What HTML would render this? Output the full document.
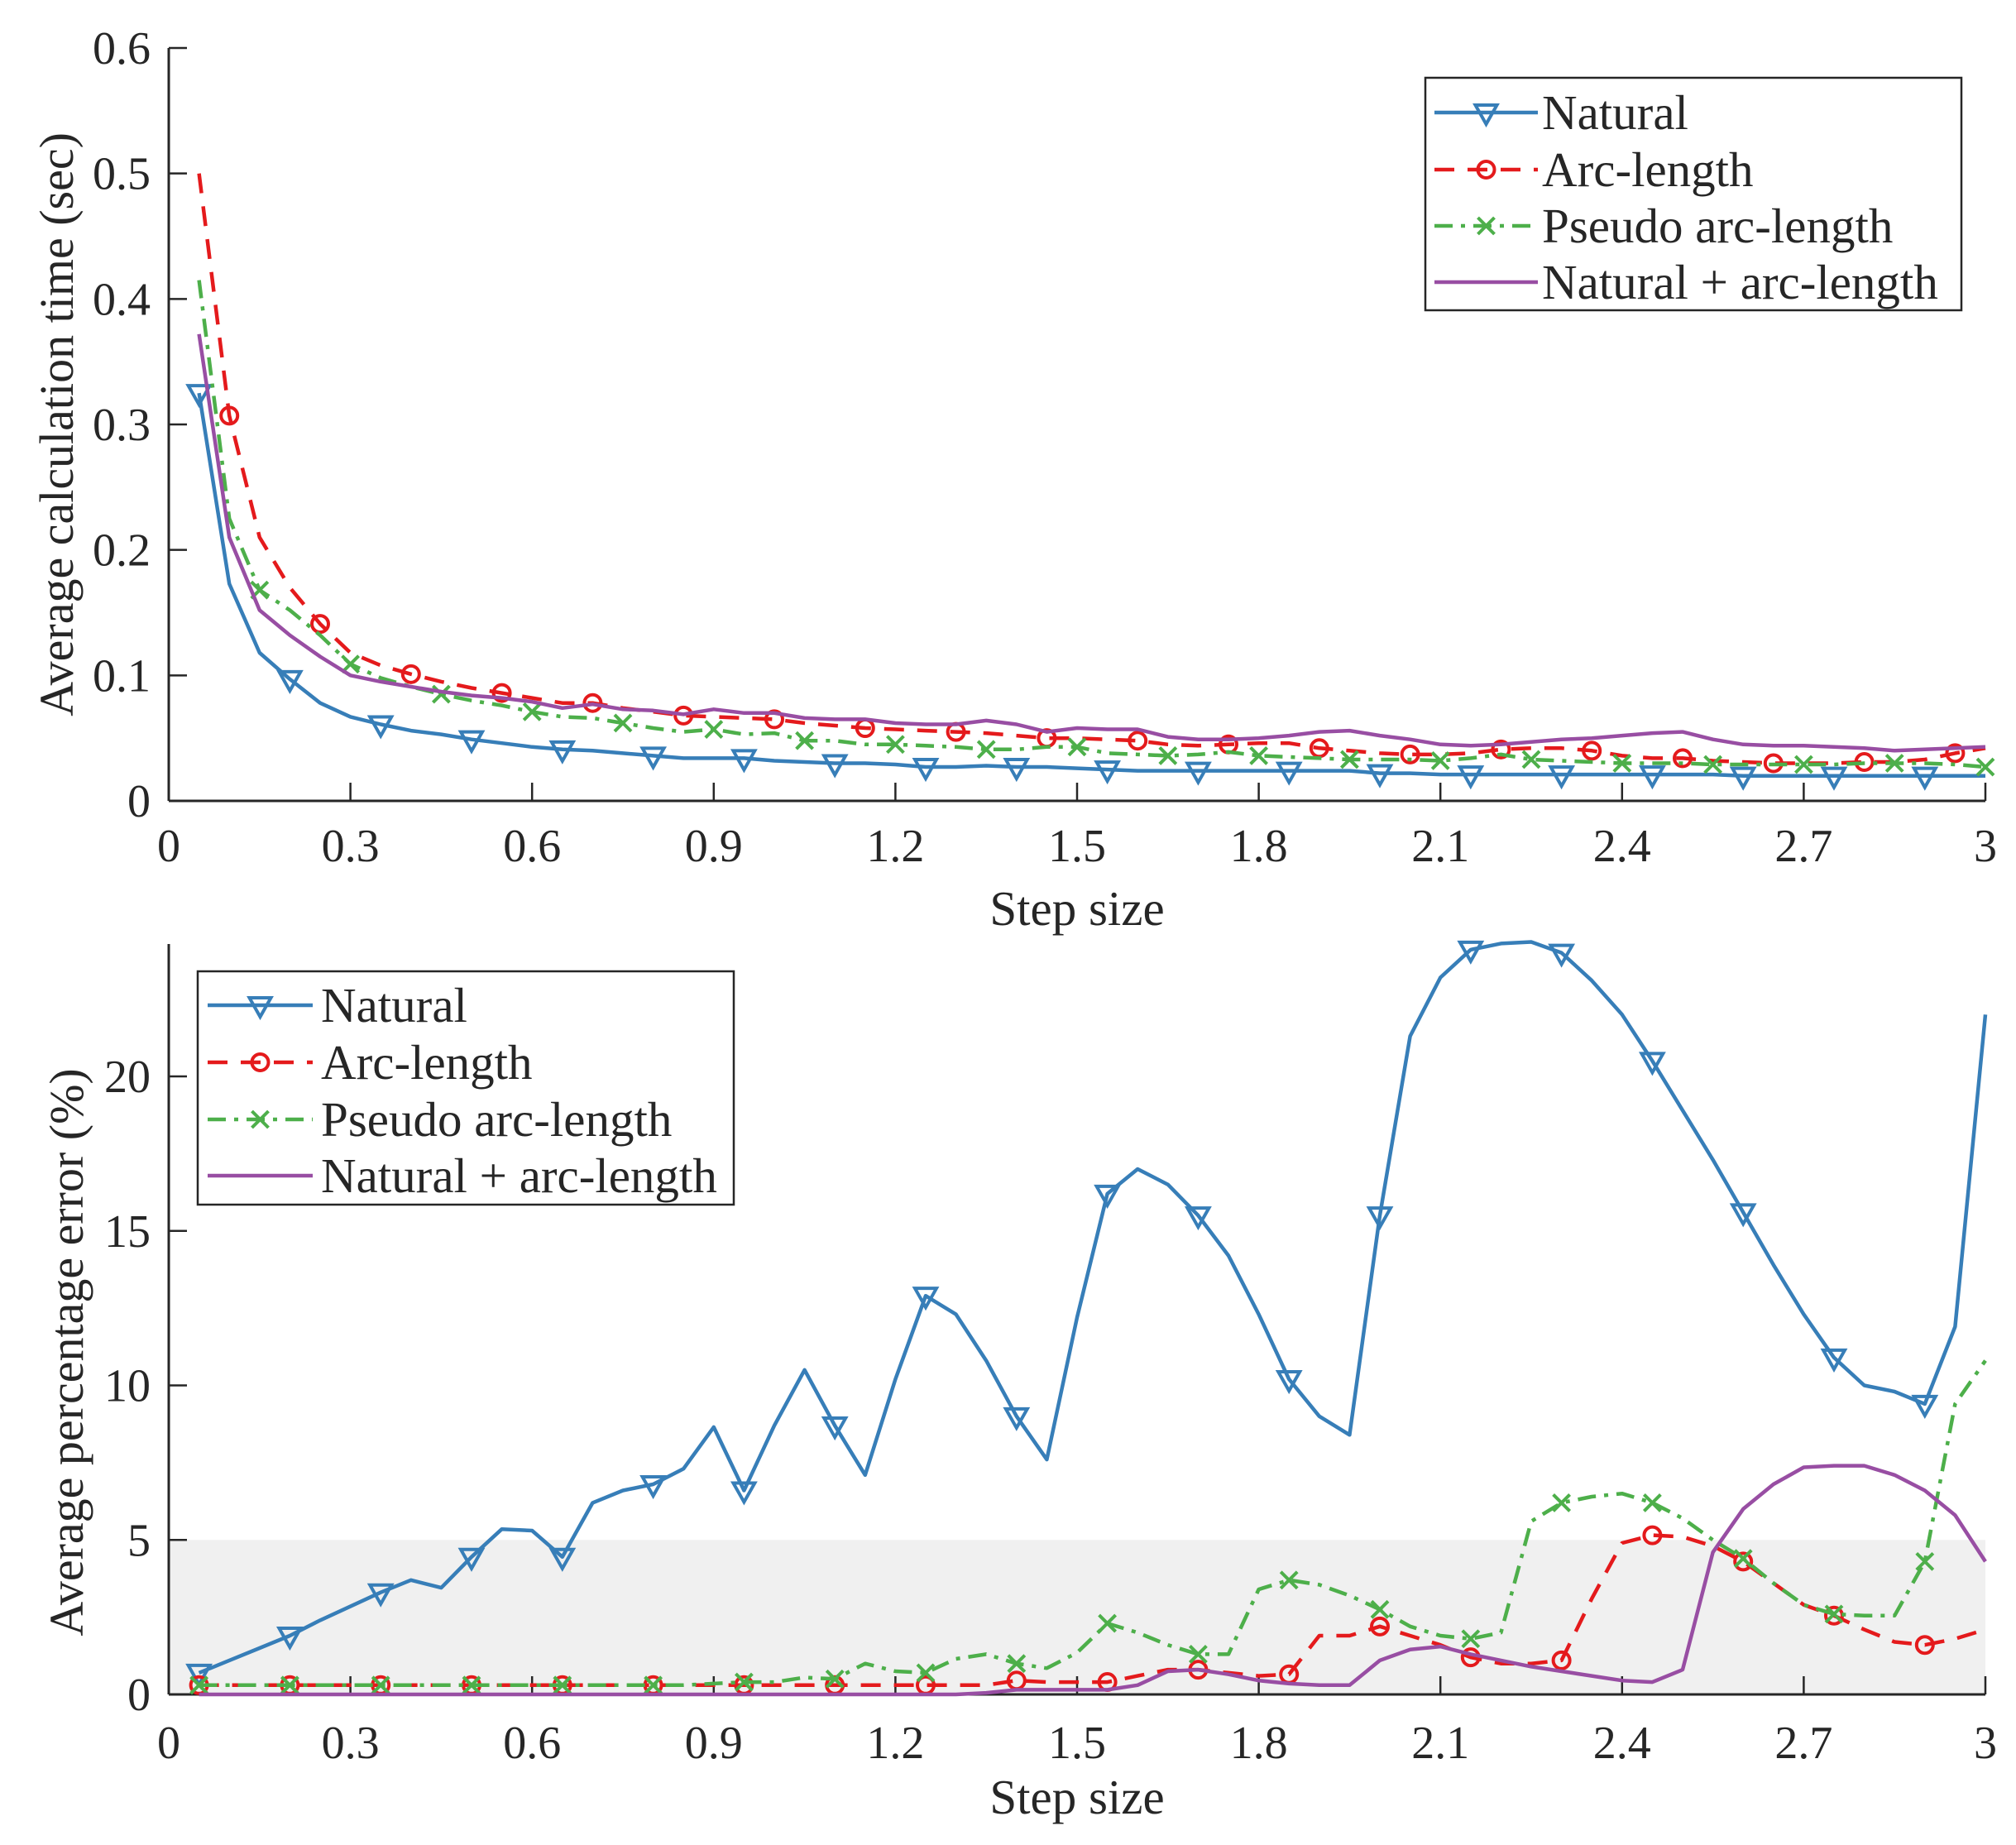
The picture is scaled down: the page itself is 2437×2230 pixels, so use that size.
<!DOCTYPE html>
<html><head><meta charset="utf-8">
<style>
html,body{margin:0;padding:0;background:#fff;}
svg{display:block;}
text{font-family:"Liberation Serif",serif;fill:#262626;}
</style></head>
<body>
<svg id="chart" width="2437" height="2230" viewBox="0 0 2437 2230" xmlns="http://www.w3.org/2000/svg"></svg>
<script>
const steps = [];
for (let i = 1; i <= 60; i++) steps.push(+(i*0.05).toFixed(2));

const timeNatural = [0.325,0.173,0.118,0.097,0.078,0.067,0.061,0.056,0.053,0.049,0.046,0.043,0.041,0.040,0.038,0.036,0.034,0.034,0.034,0.032,0.031,0.030,0.030,0.029,0.027,0.027,0.028,0.027,0.027,0.026,0.025,0.024,0.024,0.024,0.024,0.024,0.024,0.024,0.024,0.022,0.022,0.021,0.021,0.021,0.021,0.021,0.021,0.021,0.021,0.021,0.021,0.020,0.020,0.020,0.020,0.020,0.020,0.020,0.020,0.020];
const timeArc = [0.5,0.307,0.21,0.17,0.141,0.118,0.108,0.101,0.095,0.09,0.086,0.082,0.078,0.078,0.074,0.071,0.068,0.067,0.066,0.065,0.062,0.060,0.058,0.057,0.056,0.055,0.054,0.052,0.050,0.050,0.049,0.048,0.045,0.044,0.045,0.046,0.046,0.042,0.040,0.038,0.037,0.037,0.038,0.041,0.042,0.042,0.040,0.036,0.034,0.034,0.032,0.031,0.030,0.030,0.030,0.031,0.031,0.033,0.038,0.042];
const timePseudo = [0.415,0.225,0.168,0.152,0.132,0.109,0.098,0.091,0.085,0.080,0.076,0.071,0.067,0.066,0.062,0.058,0.055,0.057,0.053,0.054,0.048,0.048,0.045,0.045,0.044,0.043,0.041,0.041,0.043,0.043,0.038,0.037,0.036,0.037,0.039,0.036,0.035,0.034,0.033,0.033,0.033,0.032,0.034,0.037,0.033,0.032,0.031,0.030,0.030,0.030,0.029,0.029,0.029,0.029,0.029,0.030,0.030,0.030,0.029,0.027];
const timeHybrid = [0.372,0.21,0.152,0.132,0.115,0.1,0.095,0.091,0.087,0.084,0.082,0.079,0.074,0.077,0.073,0.072,0.069,0.073,0.070,0.070,0.066,0.065,0.065,0.062,0.061,0.061,0.064,0.061,0.055,0.058,0.057,0.057,0.051,0.049,0.049,0.050,0.052,0.055,0.056,0.052,0.049,0.045,0.044,0.045,0.047,0.049,0.050,0.052,0.054,0.055,0.049,0.045,0.044,0.044,0.043,0.042,0.040,0.041,0.042,0.043];

const errNatural = [0.7,1.1,1.5,1.9,2.4,2.85,3.3,3.7,3.45,4.45,5.35,5.3,4.45,6.2,6.6,6.8,7.3,8.65,6.6,8.7,10.5,8.7,7.1,10.2,12.9,12.3,10.8,9.0,7.6,12.2,16.2,17.0,16.5,15.5,14.2,12.3,10.2,9.0,8.4,15.5,21.3,23.2,24.1,24.3,24.35,24.0,23.1,22.0,20.5,18.9,17.3,15.6,13.9,12.3,10.9,10.0,9.8,9.4,11.9,22.0];
const errArc = [0.3,0.3,0.3,0.3,0.3,0.3,0.3,0.3,0.3,0.3,0.3,0.3,0.3,0.3,0.3,0.3,0.3,0.3,0.3,0.3,0.3,0.3,0.3,0.3,0.3,0.3,0.3,0.45,0.4,0.4,0.4,0.6,0.8,0.8,0.7,0.6,0.65,1.9,1.9,2.2,1.9,1.6,1.2,1.0,1.0,1.1,3.1,4.9,5.15,5.1,4.8,4.3,3.6,2.9,2.55,2.1,1.7,1.6,1.8,2.1];
const errPseudo = [0.3,0.3,0.3,0.3,0.3,0.3,0.3,0.3,0.3,0.3,0.3,0.3,0.3,0.3,0.3,0.3,0.3,0.35,0.4,0.4,0.55,0.5,1.0,0.75,0.7,1.15,1.3,1.0,0.85,1.35,2.3,2.0,1.6,1.3,1.3,3.4,3.7,3.55,3.2,2.75,2.2,1.9,1.8,2.0,5.6,6.2,6.4,6.5,6.2,5.7,5.0,4.4,3.6,2.9,2.6,2.55,2.55,4.3,9.4,10.8];
const errHybrid = [0,0,0,0,0,0,0,0,0,0,0,0,0,0,0,0,0,0,0,0,0,0,0,0,0,0,0.05,0.15,0.15,0.15,0.15,0.3,0.75,0.8,0.65,0.45,0.35,0.3,0.3,1.1,1.45,1.55,1.3,1.1,0.9,0.75,0.6,0.45,0.4,0.8,4.6,6.0,6.8,7.35,7.4,7.4,7.1,6.6,5.8,4.3];

const xTicks = [0,0.3,0.6,0.9,1.2,1.5,1.8,2.1,2.4,2.7,3];
const xTickLabels = ["0","0.3","0.6","0.9","1.2","1.5","1.8","2.1","2.4","2.7","3"];
const timeTicks = [0,0.1,0.2,0.3,0.4,0.5,0.6];
const timeTickLabels = ["0","0.1","0.2","0.3","0.4","0.5","0.6"];
const errTicks = [0,5,10,15,20];
const errTickLabels = ["0","5","10","15","20"];
const legendNames = ["Natural","Arc-length","Pseudo arc-length","Natural + arc-length"];
const shadeLimit = 5;

const NS = "http://www.w3.org/2000/svg";
const svg = document.getElementById("chart");
function mk(tag, attrs, parent){
  const e = document.createElementNS(NS, tag);
  for (const k in attrs) e.setAttribute(k, attrs[k]);
  (parent||svg).appendChild(e);
  return e;
}
const COL = ["#377eb8","#e41a1c","#4daf4a","#984ea3"];
const DASH = ["", "24 16", "22 10 5 10", ""];
const MARK = ["tri","circ","cross",null];

const L = 204, R = 2400;
const xScale = v => L + (v/3)*(R-L);

function drawMarker(g, type, cx, cy, color){
  let m;
  if (type === "tri"){
    m = mk("path",{d:`M${cx-13},${cy-9} L${cx+13},${cy-9} L${cx},${cy+14} Z`,fill:"none",stroke:color,"stroke-width":4},g);
  } else if (type === "circ"){
    m = mk("circle",{cx:cx,cy:cy,r:10,fill:"none",stroke:color,"stroke-width":4},g);
  } else if (type === "cross"){
    m = mk("path",{d:`M${cx-10},${cy-10} L${cx+10},${cy+10} M${cx-10},${cy+10} L${cx+10},${cy-10}`,fill:"none",stroke:color,"stroke-width":4},g);
  }
  return m;
}

function drawPanel(opt){
  const yS = v => opt.y0 - (v/opt.ymax)*(opt.y0-opt.yTop);
  const g = mk("g",{});
  
  
  if (opt.shade){
    const sh = mk("rect",{x:L,y:yS(shadeLimit),width:R-L,height:opt.y0-yS(shadeLimit),fill:"#f0f0f0"},g);
    
    
  }
  const ax = mk("g",{},g);
  
  
  mk("line",{x1:L,y1:opt.yTop,x2:L,y2:opt.y0,stroke:"#262626","stroke-width":3},ax);
  mk("line",{x1:L,y1:opt.y0,x2:R,y2:opt.y0,stroke:"#262626","stroke-width":3},ax);
  xTicks.forEach((t,i)=>{
    const x = xScale(t);
    mk("line",{x1:x,y1:opt.y0,x2:x,y2:opt.y0-22,stroke:"#262626","stroke-width":2.5},ax);
    const tx = mk("text",{x:x,y:opt.xLabY,"font-size":56,"text-anchor":"middle"},ax);
    tx.textContent = xTickLabels[i];
    
    
  });
  opt.yTicks.forEach((t,i)=>{
    const y = yS(t);
    mk("line",{x1:L,y1:y,x2:L+22,y2:y,stroke:"#262626","stroke-width":2.5},ax);
    const ty = mk("text",{x:182,y:y+19,"font-size":56,"text-anchor":"end"},ax);
    ty.textContent = opt.yTickLabels[i];
    
    
  });
  const xt = mk("text",{x:(L+R)/2,y:opt.xTitleY,"font-size":59,"text-anchor":"middle"},g);
  xt.textContent = "Step size";
  
  
  const yt = mk("text",{x:0,y:0,"font-size":58,"text-anchor":"middle",transform:`translate(${opt.yTitleX},${(opt.yTop+opt.y0)/2+opt.yTitleShift}) rotate(-90)`},g);
  yt.textContent = opt.yTitle;
  
  
  opt.series.forEach((vals,s)=>{
    const sg = mk("g",{},g);
    
    
    const d = vals.map((v,i)=>(i?"L":"M")+xScale(steps[i]).toFixed(1)+","+yS(v).toFixed(1)).join(" ");
    const p = mk("path",{d:d,fill:"none",stroke:COL[s],"stroke-width":4.5,"stroke-linejoin":"round"},sg);
    if (DASH[s]) p.setAttribute("stroke-dasharray",DASH[s]);
    
    
    if (MARK[s]){
      vals.forEach((v,i)=>{
        if ((i - opt.markOffset[s]) % 3 === 0 && i >= opt.markOffset[s]){
          const m = drawMarker(sg, MARK[s], xScale(steps[i]), yS(v), COL[s]);
          
          
        }
      });
    }
  });
  const lg = mk("g",{},g);
  
  
  const Lg = opt.legend;
  mk("rect",{x:Lg.x,y:Lg.y,width:Lg.w,height:Lg.h,fill:"#fff",stroke:"#262626","stroke-width":2.5},lg);
  legendNames.forEach((nm,s)=>{
    const ey = Lg.rows[s];
    const eg = mk("g",{},lg);
    
    
    const ln = mk("line",{x1:Lg.lx1,y1:ey,x2:Lg.lx2,y2:ey,stroke:COL[s],"stroke-width":4.5},eg);
    if (DASH[s]) ln.setAttribute("stroke-dasharray",DASH[s]);
    if (MARK[s]) drawMarker(eg, MARK[s], (Lg.lx1+Lg.lx2)/2, ey, COL[s]);
    const t = mk("text",{x:Lg.tx,y:ey+20,"font-size":59},eg);
    t.textContent = nm;
  });
}

drawPanel({
  name:"calculation-time-chart", y0:968, yTop:58, ymax:0.6,
  yTicks:timeTicks, yTickLabels:timeTickLabels,
  xLabY:1041, xTitleY:1118, yTitleX:88, yTitleShift:0,
  yTitle:"Average calculation time (sec)",
  series:[timeNatural,timeArc,timePseudo,timeHybrid],
  markOffset:[0,1,2,0], shade:false,
  legend:{x:1723,y:94,w:648,h:281,rows:[136,205,273,341],lx1:1734,lx2:1859,tx:1864}
});
drawPanel({
  name:"percentage-error-chart", y0:2048, yTop:1141, ymax:(2048-1141)/37.35,
  yTicks:errTicks, yTickLabels:errTickLabels,
  xLabY:2125, xTitleY:2192, yTitleX:100, yTitleShift:40,
  yTitle:"Average percentage error (%)",
  series:[errNatural,errArc,errPseudo,errHybrid],
  markOffset:[0,0,0,0], shade:true,
  legend:{x:239,y:1174,w:648,h:282,rows:[1215,1284,1353,1421],lx1:251,lx2:378,tx:388}
});
</script>
</body></html>
